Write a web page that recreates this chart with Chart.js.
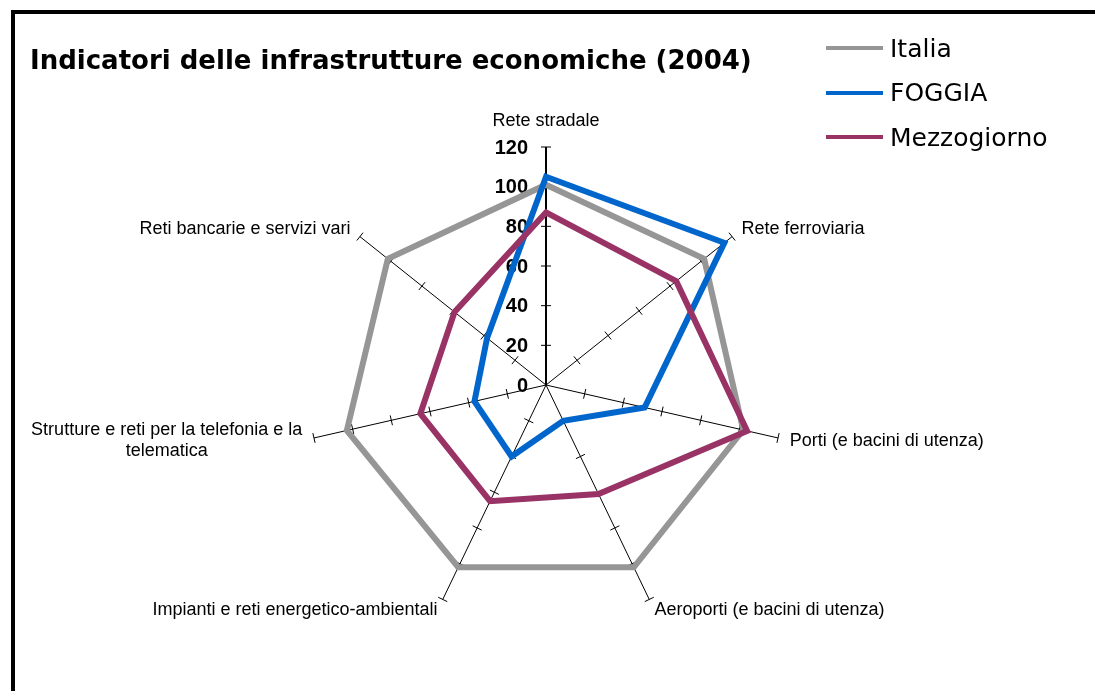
<!DOCTYPE html>
<html>
<head>
<meta charset="utf-8">
<script src="https://cdn.jsdelivr.net/npm/chart.js@4.4.1/dist/chart.umd.min.js"></script>
<style>
 html, body { margin: 0; padding: 0; background: #fff; }
 #wrap { position: relative; width: 1095px; height: 691px; overflow: hidden; }
 #frame { position: absolute; left: 11px; top: 10px; right: -10px; bottom: -10px; border-left: 4px solid #000; border-top: 4px solid #000; }
 #title { position: absolute; left: 30px; top: 45px; font: bold 26px "DejaVu Sans"; white-space: nowrap; color: #000; }
 #legend { position: absolute; left: 826px; top: 26px; }
 .item { display: flex; align-items: center; height: 44.5px; font: 25px "DejaVu Sans"; color: #000; white-space: nowrap; }
 .swatch { width: 57px; height: 4px; margin-right: 7px; }
 canvas { position: absolute; left: 0; top: 0; }
</style>
</head>
<body>
<div id="wrap">
 <canvas id="radar" width="1095" height="691"></canvas>
 <div id="frame"></div>
 <div id="title">Indicatori delle infrastrutture economiche (2004)</div>
 <div id="legend"></div>
</div>
<script>
// axes of the radar
var categories = [
 'Rete stradale',
 'Rete ferroviaria',
 'Porti (e bacini di utenza)',
 'Aeroporti (e bacini di utenza)',
 'Impianti e reti energetico-ambientali',
 ['Strutture e reti per la telefonia e la', 'telematica'],
 'Reti bancarie e servizi vari'
];
var seriesNames = ['Italia', 'FOGGIA', 'Mezzogiorno'];
var seriesColors = ['#969696', '#0066cc', '#993366'];
var italia = [101, 102, 102, 102, 102, 103, 102];
var foggia = [105, 115, 51, 20, 40, 37, 38];
var mezzogiorno = [87, 84, 104, 61, 65, 65, 59];
var tickValues = [0, 20, 40, 60, 80, 100, 120];

// legend (html)
var legendBox = document.getElementById('legend');
seriesNames.forEach(function(name, i) {
 var row = document.createElement('div');
 row.className = 'item';
 row.innerHTML = '<span class="swatch" style="background:' + seriesColors[i] + '"></span>' + name;
 legendBox.appendChild(row);
});

// tick marks on the spokes, tick labels and axis names
var spokeDecor = {
 id: 'spokeDecor',
 beforeDatasetsDraw: function(chart) {
  var scale = chart.scales.r;
  var ctx = chart.ctx;
  ctx.save();
  ctx.strokeStyle = '#000';
  ctx.lineWidth = 1;
  for (var i = 0; i < categories.length; i++) {
   tickValues.forEach(function(v) {
    if (v === 0) return;
    var p = scale.getPointPosition(i, scale.getDistanceFromCenterForValue(v));
    var nx = -Math.sin(p.angle), ny = Math.cos(p.angle);
    ctx.beginPath();
    ctx.moveTo(p.x - nx * 5, p.y - ny * 5);
    ctx.lineTo(p.x + nx * 5, p.y + ny * 5);
    ctx.stroke();
   });
  }
  // value labels left of the top spoke
  ctx.fillStyle = '#000';
  ctx.font = 'bold 20px "Liberation Sans"';
  ctx.textAlign = 'right';
  ctx.textBaseline = 'middle';
  tickValues.forEach(function(v) {
   var y = scale.yCenter - scale.getDistanceFromCenterForValue(v);
   ctx.fillText(String(v), scale.xCenter - 18, y + 1);
  });
  ctx.restore();
 },
 afterDraw: function(chart) {
  var scale = chart.scales.r;
  var ctx = chart.ctx;
  ctx.save();
  ctx.fillStyle = '#000';
  ctx.font = '18px "Liberation Sans"';
  ctx.textBaseline = 'middle';
  var lh = 21;
  categories.forEach(function(label, i) {
   var p = scale.getPointPosition(i, scale.drawingArea + 12);
   var lines = Array.isArray(label) ? label : [label];
   var s = Math.sin(scale.getIndexAngle(i));
   var y = p.y;
   if (i === 0) y -= 14;
   var widths = lines.map(function(t) { return ctx.measureText(t).width; });
   var w = Math.max.apply(null, widths);
   var left;
   if (Math.abs(s) < 0.1) left = p.x - w / 2;
   else if (s > 0) left = p.x;
   else left = p.x - w;
   var top = y - (lines.length - 1) * lh / 2;
   ctx.textAlign = 'center';
   lines.forEach(function(t, k) {
    ctx.fillText(t, left + w / 2, top + k * lh);
   });
  });
  ctx.restore();
 }
};

var datasets = [italia, foggia, mezzogiorno].map(function(values, i) {
 return {
  label: seriesNames[i],
  data: values,
  borderColor: seriesColors[i],
  backgroundColor: seriesColors[i],
  borderWidth: 6,
  borderJoinStyle: 'miter',
  pointRadius: 0,
  fill: false,
  order: 3 - i
 };
});

new Chart(document.getElementById('radar').getContext('2d'), {
 type: 'radar',
 data: {
  labels: categories,
  datasets: datasets
 },
 options: {
  responsive: false,
  animation: false,
  layout: { padding: { left: 246, right: 249, top: 147, bottom: 68 } },
  plugins: {
   legend: { display: false },
   tooltip: { enabled: false }
  },
  scales: {
   r: {
    min: 0,
    max: 120,
    ticks: { display: false, stepSize: 20 },
    grid: { display: false },
    angleLines: {
     display: true,
     color: '#000',
     lineWidth: function(c) { return c.index === 0 ? 2 : 1; }
    },
    pointLabels: { display: false }
   }
  }
 },
 plugins: [spokeDecor]
});
</script>
</body>
</html>
